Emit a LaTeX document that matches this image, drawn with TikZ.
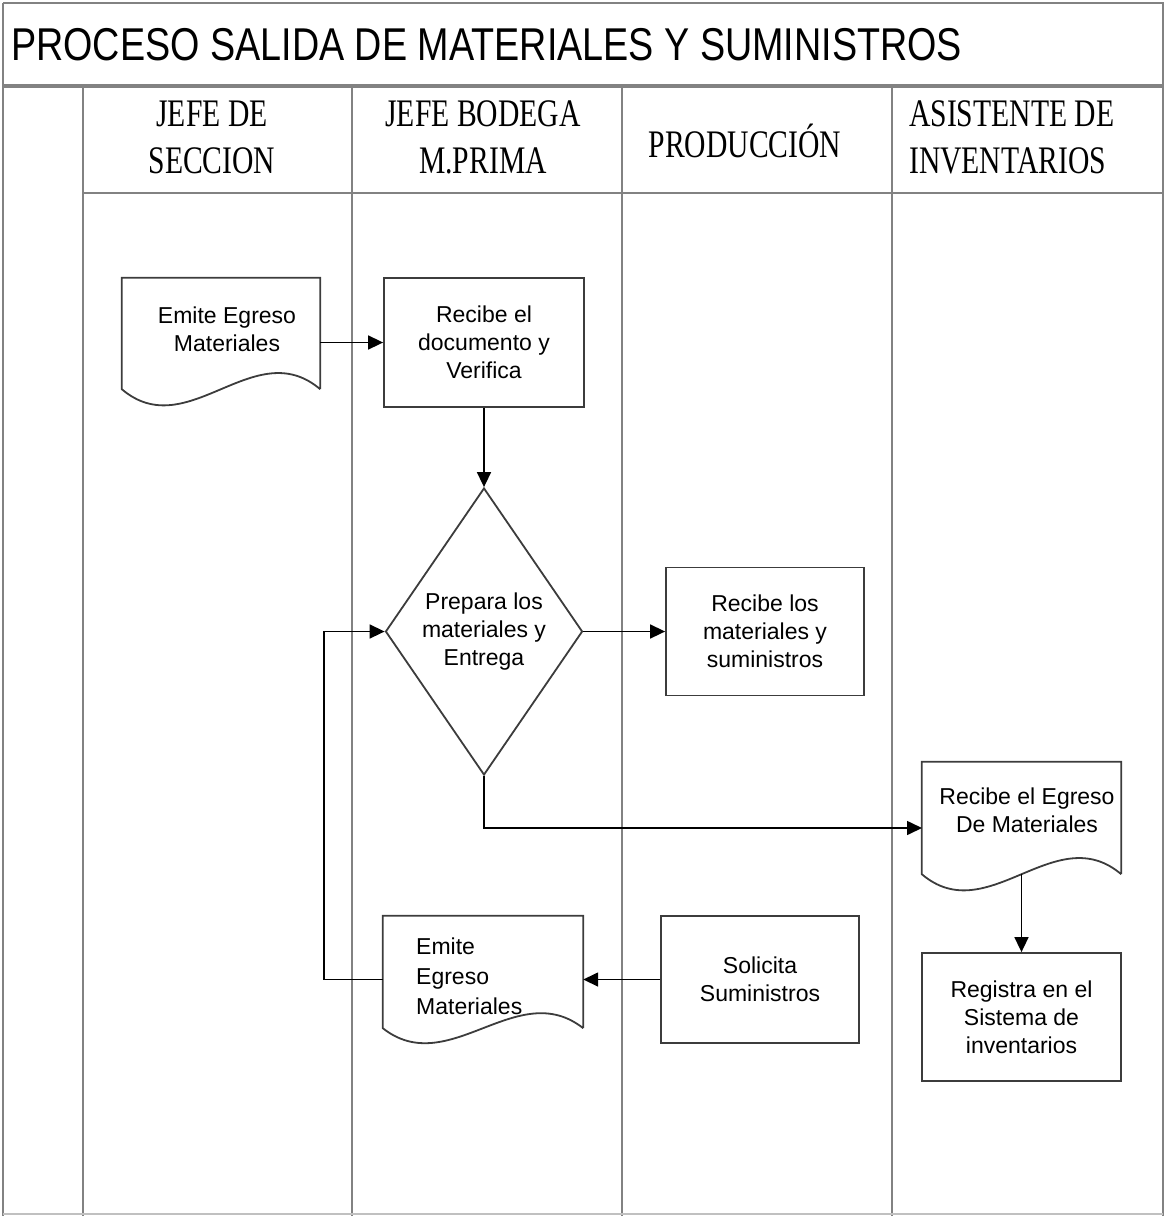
\documentclass[tikz,border=0pt]{standalone}
\usepackage{fontspec}
\setmainfont{Liberation Sans}
\newfontfamily\titlefont[FakeStretch=0.82]{Liberation Sans}
\newfontfamily\hdrfont[FakeStretch=0.76]{Liberation Serif}
\usetikzlibrary{shapes.geometric,arrows.meta,calc}
\definecolor{framegray}{RGB}{130,130,130}
\definecolor{shapegray}{RGB}{60,60,60}
\begin{document}
\begin{tikzpicture}[x=1pt,y=-1pt,
  frameline/.style={draw=framegray, line width=2.4pt},
  txt/.style={font=\fontsize{23}{28}\selectfont, align=center, inner sep=0pt},
  hdr/.style={font=\hdrfont\fontsize{39}{47}\selectfont, align=center, inner sep=0pt},
  procbox/.style={draw=shapegray, line width=1.8pt, rectangle, inner sep=0pt,
    font=\fontsize{23}{28}\selectfont, align=center},
  docbox/.style={rectangle, draw=none, inner sep=0pt},
  docline/.style={draw=shapegray, line width=1.8pt, line join=miter},
  decbox/.style={draw=shapegray, line width=1.8pt, diamond, inner sep=0pt,
    minimum width=197pt, minimum height=287pt, aspect=0.686,
    font=\fontsize{23}{28}\selectfont, align=center},
  conn/.style={draw=black, line width=1.6pt, -{Triangle[length=15pt,width=14pt]}}
]
\useasboundingbox (0,0) rectangle (1167,1216);

% frame
\draw[frameline] (3,3) -- (1164,3);
\draw[frameline] (3,3) -- (3,1216);
\draw[frameline] (1163,3) -- (1163,1216);
\draw[frameline, line width=3.2pt] (3,86) -- (1164,86);
\draw[frameline] (83,193) -- (1163,193);
\draw[frameline] (83,86) -- (83,1216);
\draw[frameline] (352,86) -- (352,1216);
\draw[frameline] (622,86) -- (622,1216);
\draw[frameline] (892,86) -- (892,1216);
\draw[draw=framegray!50, line width=1.5pt] (3,1214) -- (1163,1214);

% title
\node[anchor=base west, inner sep=0pt] (title) at (11,60)
  {\titlefont\fontsize{46}{50}\selectfont PROCESO SALIDA DE MATERIALES Y SUMINISTROS};

% headers
\node[hdr] (h1) at (212,137) {JEFE DE\\SECCION};
\node[hdr] (h2) at (483,137) {JEFE BODEGA\\M.PRIMA};
\node[hdr] (h3) at (745,141) {PRODUCCIÓN};
\node[hdr, align=left, anchor=west] (h4) at (909,137) {ASISTENTE DE\\INVENTARIOS};

% document 1
\node[docbox, minimum width=198pt, minimum height=111pt] (d1) at (221,333.5) {};
\draw[docline] (d1.south east) -- (d1.north east) -- (d1.north west) -- (d1.south west)
  .. controls +(66,56) and +(-66,-56) .. (d1.south east);
\node[txt] (d1t) at (227,329) {Emite Egreso\\Materiales};

% box 1
\node[procbox, minimum width=200pt, minimum height=129pt] (b1) at (484,342.5)
  {Recibe el\\documento y\\Verifica};

% diamond
\node[decbox] (dia) at (484,631.5) {Prepara los\\materiales y\\Entrega};

% box 2
\node[procbox, minimum width=198pt, minimum height=128pt] (b2) at (765,631.5)
  {Recibe los\\materiales y\\suministros};

% document 2
\node[docbox, minimum width=199pt, minimum height=112pt] (d2) at (1021.5,818) {};
\draw[docline] (d2.south east) -- (d2.north east) -- (d2.north west) -- (d2.south west)
  .. controls +(66,56) and +(-66,-56) .. (d2.south east);
\node[txt] (d2t) at (1027,810) {Recibe el Egreso\\De Materiales};

% box 4
\node[procbox, minimum width=199pt, minimum height=128pt] (b4) at (1021.5,1017)
  {Registra en el\\Sistema de\\inventarios};

% box 3
\node[procbox, minimum width=198pt, minimum height=127pt] (b3) at (760,979.5)
  {Solicita\\Suministros};

% document 3
\node[docbox, minimum width=200pt, minimum height=112pt] (d3) at (483,972) {};
\draw[docline] (d3.south east) -- (d3.north east) -- (d3.north west) -- (d3.south west)
  .. controls +(66,52) and +(-66,-52) .. (d3.south east);
\node[txt, align=left, anchor=west, font=\fontsize{23}{30}\selectfont] (d3t) at (416,976)
  {Emite\\Egreso\\Materiales};

% connectors
\coordinate (d2in) at (922,828);
\coordinate (lp) at (324,979.5);
\draw[conn] (d1.east |- b1.west) -- (b1.west);
\draw[conn] (b1.south) -- (dia.north);
\draw[conn] (dia.east) -- (b2.west);
\draw[conn] (dia.south) |- (d2in);
\draw[conn] (d2.south) -- (b4.north);
\draw[conn] (b3.west) -- (d3.east |- b3.west);
\draw[conn] (d3.west |- b3.west) -- (lp) |- (dia.west);
\end{tikzpicture}
\end{document}
